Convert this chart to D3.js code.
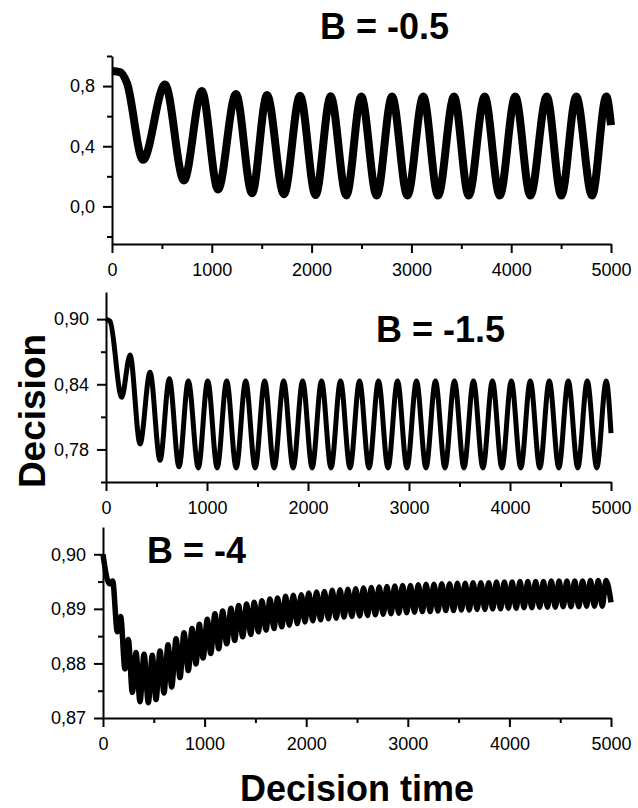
<!DOCTYPE html>
<html>
<head>
<meta charset="utf-8">
<script src="https://cdn.jsdelivr.net/npm/d3@7"></script>
<style>
  body { margin: 0; background: #fff; }
  svg { display: block; font-family: "Liberation Sans", Arial, sans-serif; }
</style>
</head>
<body>
<svg id="chart"></svg>
<script>
// Decision vs decision time for three values of B

const width = 638;
const height = 808;

const xMajor = [0, 1000, 2000, 3000, 4000, 5000];
const xMinor = [500, 1500, 2500, 3500, 4500];

// panel 1: B = -0.5 (turning points of the curve)
const p1Points = [
  [0, 0.900], [80, 0.893], [150, 0.82], [311, 0.31], [531, 0.81], [721, 0.173],
  [900, 0.767], [1062, 0.113], [1242, 0.747], [1403, 0.087], [1553, 0.740],
  [1723, 0.080], [1884, 0.736], [2040, 0.075], [2191, 0.732], [2348, 0.073],
  [2498, 0.730], [2652, 0.072], [2806, 0.730], [2960, 0.072], [3119, 0.730],
  [3267, 0.072], [3427, 0.730], [3574, 0.072], [3734, 0.730], [3885, 0.072],
  [4041, 0.730], [4192, 0.072], [4356, 0.730], [4502, 0.072], [4652, 0.730],
  [4810, 0.072], [4953, 0.730], [5000, 0.54]
];
const p1YMajor = [0.0, 0.4, 0.8];
const p1YMinor = [-0.2, 0.2, 0.6, 1.0];

// panel 2: B = -1.5
const p2Points = [
  [0, 0.900], [40, 0.898], [155, 0.828], [238, 0.867], [337, 0.785], [436, 0.851],
  [535, 0.770], [627, 0.845], [723, 0.764], [815, 0.843], [914, 0.763],
  [1007, 0.843], [1101, 0.763], [1195, 0.843], [1289, 0.763], [1383, 0.843],
  [1477, 0.763], [1571, 0.843], [1665, 0.763], [1759, 0.843], [1853, 0.763],
  [1947, 0.843], [2041, 0.763], [2134, 0.843], [2228, 0.763], [2322, 0.843],
  [2416, 0.763], [2510, 0.843], [2604, 0.763], [2698, 0.843], [2792, 0.763],
  [2886, 0.843], [2980, 0.763], [3074, 0.843], [3168, 0.763], [3262, 0.843],
  [3356, 0.763], [3450, 0.843], [3544, 0.763], [3638, 0.843], [3732, 0.763],
  [3826, 0.843], [3920, 0.763], [4013, 0.843], [4107, 0.763], [4201, 0.843],
  [4295, 0.763], [4389, 0.843], [4483, 0.763], [4577, 0.843], [4671, 0.763],
  [4765, 0.843], [4859, 0.763], [4953, 0.843], [5000, 0.795]
];
const p2YMajor = [0.78, 0.84, 0.90];
const p2YMinor = [0.75, 0.81, 0.87];

// panel 3: B = -4
const p3Points = [
  [0, 0.9000], [62, 0.8946], [95, 0.8951], [141, 0.8858], [174, 0.8886],
  [216, 0.8790], [249, 0.8844], [289, 0.8747], [325, 0.8820], [364, 0.8730],
  [404, 0.8817], [446, 0.8728], [485, 0.8815], [522, 0.8734], [561, 0.8823],
  [600, 0.8746], [640, 0.8834], [676, 0.8757], [719, 0.8845], [758, 0.8774],
  [797, 0.8856], [840, 0.8787], [876, 0.8864], [915, 0.8799], [948, 0.8872],
  [985, 0.8810], [1027, 0.8881], [1060, 0.8818], [1102, 0.8891], [1139, 0.8827],
  [1178, 0.8896], [1217, 0.8836], [1260, 0.8901], [1296, 0.8842], [1335, 0.8906],
  [1375, 0.8849], [1414, 0.8909], [1454, 0.8853], [1489, 0.8912], [1529, 0.8858],
  [1565, 0.8915], [1604, 0.8861], [1644, 0.8918], [1683, 0.8864], [1719, 0.8920],
  [1759, 0.8867], [1798, 0.8923], [1834, 0.8870], [1873, 0.8925], [1912, 0.8873],
  [1952, 0.8926], [1988, 0.8876], [2025, 0.8929], [2065, 0.8878], [2102, 0.8931],
  [2142, 0.8880], [2179, 0.8932], [2219, 0.8882], [2256, 0.8934], [2296, 0.8883],
  [2333, 0.8935], [2373, 0.8885], [2410, 0.8936], [2450, 0.8886], [2487, 0.8937],
  [2527, 0.8887], [2564, 0.8938], [2604, 0.8888], [2641, 0.8939], [2681, 0.8889],
  [2718, 0.8940], [2758, 0.8890], [2795, 0.8941], [2835, 0.8891], [2872, 0.8942],
  [2912, 0.8892], [2949, 0.8943], [2989, 0.8893], [3026, 0.8943], [3066, 0.8894],
  [3103, 0.8944], [3143, 0.8895], [3180, 0.8945], [3220, 0.8895], [3257, 0.8945],
  [3297, 0.8896], [3334, 0.8946], [3374, 0.8897], [3411, 0.8946], [3451, 0.8897],
  [3488, 0.8947], [3528, 0.8898], [3565, 0.8947], [3605, 0.8898], [3642, 0.8948],
  [3682, 0.8899], [3719, 0.8948], [3759, 0.8899], [3796, 0.8948], [3836, 0.8900],
  [3873, 0.8949], [3913, 0.8900], [3950, 0.8949], [3990, 0.8901], [4027, 0.8949],
  [4067, 0.8901], [4104, 0.8950], [4144, 0.8902], [4181, 0.8950], [4221, 0.8902],
  [4258, 0.8950], [4298, 0.8903], [4335, 0.8950], [4375, 0.8903], [4412, 0.8951],
  [4452, 0.8903], [4489, 0.8951], [4529, 0.8904], [4566, 0.8951], [4606, 0.8904],
  [4643, 0.8951], [4683, 0.8904], [4720, 0.8951], [4760, 0.8905], [4797, 0.8952],
  [4837, 0.8905], [4874, 0.8952], [4914, 0.8905], [4951, 0.8952], [5000, 0.8912]
];
const p3YMajor = [0.87, 0.88, 0.89, 0.90];
const p3YMinor = [0.875, 0.885, 0.895];

const svg = d3.select("#chart")
    .attr("width", width)
    .attr("height", height);

const commaFmt = digits => d => d3.format(`.${digits}f`)(d).replace(".", ",");

function drawPanel(cfg) {
    const x = d3.scaleLinear().domain([0, 5000]).range([cfg.left, cfg.right]);
    const y = d3.scaleLinear().domain(cfg.yDomain).range([cfg.bottom, cfg.top]);
    const g = svg.append("g");

    const styleAxis = sel => {
        sel.selectAll("path").attr("stroke", "#000").attr("stroke-width", 2);
        sel.selectAll("line").attr("stroke", "#000").attr("stroke-width", 2);
        sel.selectAll("text").attr("font-size", "18px").attr("fill", "#000");
    };

    g.append("g")
        .attr("transform", `translate(0,${cfg.bottom})`)
        .call(d3.axisBottom(x).tickValues(xMinor).tickSize(5).tickFormat("").tickSizeOuter(0))
        .call(styleAxis);
    g.append("g")
        .attr("transform", `translate(0,${cfg.bottom})`)
        .call(d3.axisBottom(x).tickValues(xMajor).tickSize(9).tickPadding(10)
            .tickFormat(d3.format("d")).tickSizeOuter(0))
        .call(styleAxis)
        .call(a => a.select(".domain").remove());

    g.append("g")
        .attr("transform", `translate(${cfg.left},0)`)
        .call(d3.axisLeft(y).tickValues(cfg.yMinor).tickSize(5).tickFormat("").tickSizeOuter(0))
        .call(styleAxis);
    g.append("g")
        .attr("transform", `translate(${cfg.left},0)`)
        .call(d3.axisLeft(y).tickValues(cfg.yMajor).tickSize(9).tickPadding(8)
            .tickFormat(commaFmt(cfg.digits)).tickSizeOuter(0))
        .call(styleAxis)
        .call(a => a.select(".domain").remove());

    const line = d3.line()
        .x(d => x(d[0]))
        .y(d => y(d[1]))
        .curve(d3.curveMonotoneX);

    g.append("path")
        .datum(cfg.data)
        .attr("fill", "none")
        .attr("stroke", "#000")
        .attr("stroke-width", cfg.stroke)
        .attr("stroke-linejoin", "round")
        .attr("d", line);

    g.append("text")
        .attr("x", cfg.titleX)
        .attr("y", cfg.titleY)
        .attr("font-size", "36px")
        .attr("font-weight", "bold")
        .text(cfg.title);
}

drawPanel({
    left: 112, right: 611, top: 56, bottom: 244,
    yDomain: [-0.25, 1.0], yMajor: p1YMajor, yMinor: p1YMinor, digits: 1,
    data: p1Points, stroke: 8,
    title: "B = -0.5", titleX: 320, titleY: 39
});

drawPanel({
    left: 106, right: 611, top: 292, bottom: 482,
    yDomain: [0.75, 0.925], yMajor: p2YMajor, yMinor: p2YMinor, digits: 2,
    data: p2Points, stroke: 5,
    title: "B = -1.5", titleX: 376, titleY: 342
});

drawPanel({
    left: 103, right: 611, top: 527, bottom: 718,
    yDomain: [0.87, 0.905], yMajor: p3YMajor, yMinor: p3YMinor, digits: 2,
    data: p3Points, stroke: 5.5,
    title: "B = -4", titleX: 147, titleY: 563
});

svg.append("text")
    .attr("transform", "translate(45,411) rotate(-90)")
    .attr("text-anchor", "middle")
    .attr("font-size", "37px")
    .attr("font-weight", "bold")
    .text("Decision");

svg.append("text")
    .attr("x", 357)
    .attr("y", 801)
    .attr("text-anchor", "middle")
    .attr("font-size", "36px")
    .attr("font-weight", "bold")
    .text("Decision time");
</script>
</body>
</html>
